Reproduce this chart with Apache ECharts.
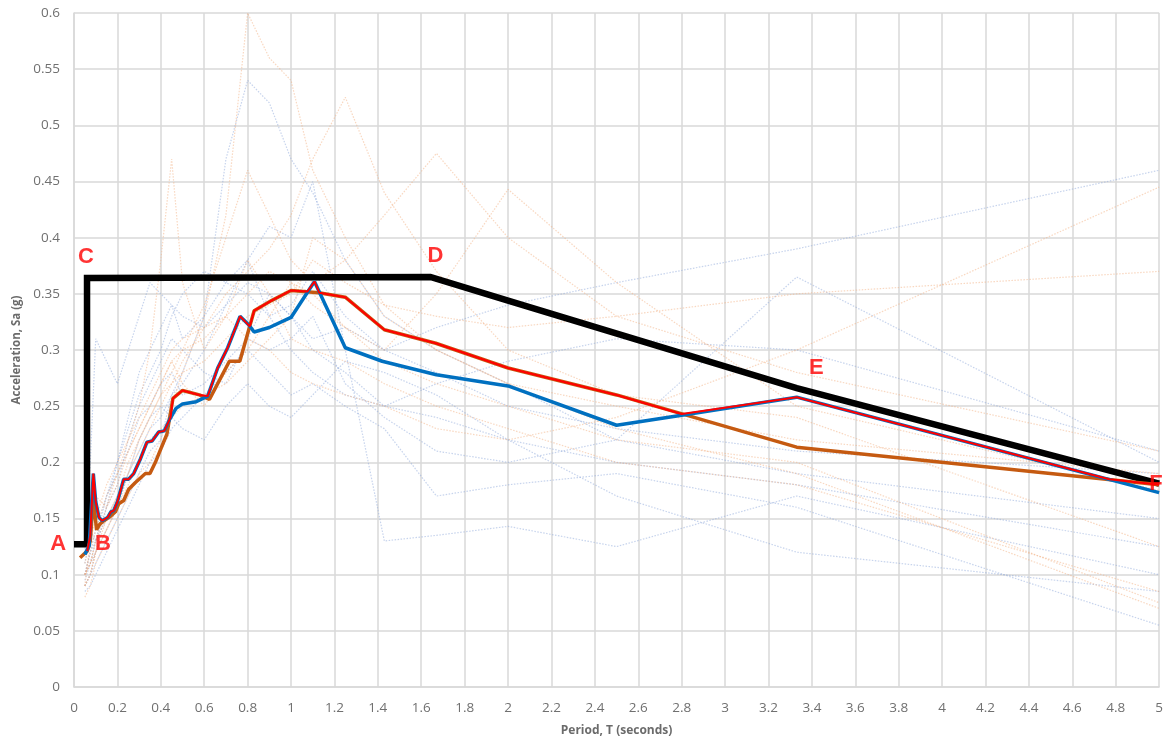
<!DOCTYPE html>
<html>
<head>
<meta charset="utf-8">
<script src="https://cdn.jsdelivr.net/npm/echarts@6/dist/echarts.min.js"></script>
<style>
html,body{margin:0;padding:0;background:#fff;}
#chart{width:1166px;height:742px;}
</style>
</head>
<body>
<div id="chart"></div>
<script>
// ---- Data ----
const xTitle = 'Period, T (seconds)';
const yTitle = 'Acceleration, Sa (g)';

// Design spectrum (black)
const designSpectrum = [[0,0.127],[0.06,0.127],[0.06,0.364],[1.642,0.365],[2.0,0.344],[3.33,0.266],[5.0,0.181]];

// Mean spectrum, blue set
const blueMean = [[0.05,0.118],[0.07,0.126],[0.089,0.19],[0.1,0.165],[0.115,0.151],[0.13,0.148],[0.155,0.151],[0.17,0.156],[0.183,0.157],[0.2,0.165],[0.229,0.185],[0.252,0.185],[0.275,0.19],[0.306,0.203],[0.336,0.218],[0.36,0.219],[0.39,0.227],[0.416,0.228],[0.44,0.238],[0.47,0.248],[0.5,0.252],[0.563,0.254],[0.616,0.259],[0.662,0.284],[0.708,0.302],[0.765,0.33],[0.807,0.322],[0.83,0.316],[0.9,0.32],[1.0,0.329],[1.108,0.361],[1.25,0.302],[1.42,0.29],[1.67,0.278],[2.0,0.268],[2.5,0.233],[2.8,0.242],[3.33,0.258],[5.0,0.173]];

// Mean spectrum, orange set
const orangeMean = [[0.028,0.115],[0.061,0.121],[0.075,0.13],[0.089,0.168],[0.104,0.14],[0.119,0.145],[0.138,0.148],[0.168,0.152],[0.191,0.156],[0.206,0.163],[0.229,0.166],[0.252,0.176],[0.283,0.182],[0.306,0.186],[0.329,0.19],[0.35,0.19],[0.375,0.2],[0.4,0.212],[0.428,0.225],[0.456,0.257],[0.5,0.264],[0.578,0.26],[0.624,0.256],[0.716,0.29],[0.764,0.29],[0.83,0.335],[0.91,0.344],[1.0,0.353],[1.128,0.351],[1.25,0.347],[1.43,0.318],[1.667,0.306],[2.0,0.284],[2.5,0.26],[3.33,0.2135],[5.0,0.18]];

// Envelope (red)
const envelope = [[0.061,0.121],[0.075,0.135],[0.089,0.19],[0.1,0.165],[0.115,0.151],[0.13,0.148],[0.155,0.151],[0.17,0.156],[0.183,0.157],[0.2,0.165],[0.229,0.185],[0.252,0.185],[0.275,0.19],[0.306,0.203],[0.336,0.218],[0.36,0.219],[0.39,0.227],[0.416,0.228],[0.445,0.24],[0.456,0.257],[0.5,0.264],[0.578,0.26],[0.616,0.259],[0.662,0.284],[0.708,0.302],[0.765,0.33],[0.81,0.321],[0.83,0.335],[0.91,0.344],[1.0,0.353],[1.075,0.352],[1.108,0.361],[1.13,0.351],[1.25,0.347],[1.43,0.318],[1.667,0.306],[2.0,0.284],[2.5,0.26],[2.8,0.243],[3.33,0.258],[4.77,0.185],[5.0,0.18]];

// Periods of individual record spectra
const periods = [0.05,0.075,0.1,0.15,0.2,0.25,0.3,0.35,0.4,0.45,0.5,0.6,0.7,0.8,0.9,1.0,1.1,1.25,1.43,1.67,2.0,2.5,3.33,5.0];

// Individual records, blue set
const blueRecords = [
  [0.09,0.10,0.11,0.13,0.15,0.17,0.19,0.21,0.22,0.26,0.28,0.33,0.47,0.54,0.52,0.47,0.44,0.38,0.33,0.30,0.27,0.22,0.19,0.15],
  [0.10,0.12,0.13,0.15,0.17,0.19,0.21,0.23,0.24,0.26,0.27,0.30,0.34,0.38,0.41,0.40,0.45,0.30,0.13,0.135,0.143,0.125,0.17,0.10],
  [0.10,0.11,0.12,0.16,0.20,0.24,0.28,0.30,0.32,0.34,0.31,0.33,0.36,0.35,0.33,0.34,0.37,0.33,0.30,0.32,0.34,0.36,0.39,0.46],
  [0.11,0.14,0.13,0.17,0.19,0.21,0.24,0.25,0.27,0.28,0.26,0.27,0.29,0.31,0.30,0.31,0.33,0.27,0.24,0.21,0.20,0.22,0.365,0.20],
  [0.12,0.20,0.31,0.29,0.27,0.30,0.33,0.36,0.35,0.34,0.33,0.32,0.34,0.36,0.35,0.33,0.30,0.28,0.25,0.24,0.22,0.20,0.18,0.125],
  [0.085,0.09,0.10,0.12,0.14,0.16,0.18,0.20,0.21,0.23,0.24,0.26,0.28,0.30,0.28,0.26,0.27,0.25,0.23,0.17,0.18,0.19,0.16,0.055],
  [0.09,0.10,0.12,0.14,0.16,0.19,0.22,0.24,0.25,0.24,0.23,0.22,0.25,0.27,0.25,0.24,0.26,0.29,0.28,0.26,0.22,0.17,0.12,0.085],
  [0.10,0.12,0.14,0.17,0.20,0.23,0.26,0.28,0.30,0.33,0.35,0.37,0.36,0.38,0.33,0.30,0.28,0.26,0.25,0.27,0.29,0.31,0.30,0.21],
  [0.095,0.11,0.13,0.16,0.18,0.22,0.25,0.27,0.29,0.31,0.30,0.28,0.27,0.31,0.35,0.33,0.31,0.32,0.30,0.28,0.25,0.23,0.21,0.19]
];

// Individual records, orange set
const orangeRecords = [
  [0.08,0.09,0.11,0.13,0.15,0.17,0.19,0.20,0.22,0.25,0.28,0.33,0.42,0.60,0.56,0.54,0.46,0.40,0.34,0.30,0.27,0.23,0.19,0.07],
  [0.09,0.10,0.12,0.14,0.16,0.19,0.21,0.23,0.25,0.27,0.29,0.32,0.35,0.37,0.39,0.42,0.47,0.525,0.44,0.37,0.30,0.26,0.24,0.125],
  [0.10,0.12,0.14,0.17,0.19,0.22,0.25,0.30,0.38,0.47,0.36,0.30,0.33,0.38,0.35,0.31,0.30,0.29,0.27,0.25,0.23,0.20,0.18,0.085],
  [0.09,0.10,0.12,0.15,0.17,0.20,0.22,0.24,0.26,0.28,0.30,0.34,0.40,0.46,0.42,0.38,0.36,0.38,0.42,0.475,0.40,0.33,0.28,0.21],
  [0.10,0.11,0.13,0.16,0.19,0.21,0.23,0.25,0.27,0.29,0.30,0.31,0.33,0.35,0.37,0.36,0.34,0.32,0.30,0.35,0.443,0.36,0.25,0.175],
  [0.11,0.13,0.15,0.18,0.20,0.22,0.24,0.26,0.28,0.30,0.31,0.32,0.33,0.31,0.30,0.28,0.27,0.26,0.25,0.23,0.22,0.24,0.30,0.445],
  [0.10,0.11,0.13,0.15,0.17,0.19,0.22,0.24,0.26,0.27,0.28,0.29,0.31,0.33,0.34,0.35,0.38,0.36,0.34,0.33,0.32,0.33,0.35,0.37],
  [0.09,0.13,0.17,0.16,0.18,0.21,0.23,0.25,0.27,0.29,0.27,0.25,0.28,0.30,0.33,0.36,0.35,0.32,0.29,0.27,0.25,0.22,0.20,0.075],
  [0.10,0.11,0.12,0.14,0.16,0.18,0.20,0.22,0.23,0.24,0.25,0.26,0.27,0.29,0.31,0.33,0.40,0.38,0.33,0.30,0.27,0.25,0.22,0.19]
];

// Point labels
const pointLabels = [
  {name:'A', value:[-0.073,0.127]},
  {name:'B', value:[0.133,0.127]},
  {name:'C', value:[0.055,0.383]},
  {name:'D', value:[1.665,0.384]},
  {name:'E', value:[3.42,0.284]},
  {name:'F', value:[4.985,0.181]}
];

// ---- Chart ----
const chart = echarts.init(document.getElementById('chart'), null, {renderer:'canvas'});
const series = [];
function recordSeries(vals, color){
  return {
    type:'line', silent:true, symbol:'none', z:1,
    data: periods.map((p,i)=>[p, vals[i]]),
    lineStyle:{color:color, width:1.2, type:[1.5,1.5], opacity:0.5}
  };
}
blueRecords.forEach(r=>series.push(recordSeries(r,'#8FAADC')));
orangeRecords.forEach(r=>series.push(recordSeries(r,'#F4B183')));
series.push({type:'line', symbol:'none', z:3, data:designSpectrum,
  lineStyle:{color:'#000000', width:6.5, join:'miter', cap:'butt'}});
series.push({type:'line', symbol:'none', z:4, data:orangeMean,
  lineStyle:{color:'#C55A11', width:3.5}});
series.push({type:'line', symbol:'none', z:5, data:blueMean,
  lineStyle:{color:'#0070C0', width:3.5}});
series.push({type:'line', symbol:'none', z:6, data:envelope,
  lineStyle:{color:'#FF0000', width:2}});
series.push({type:'scatter', symbolSize:0, z:7, clip:false, data:pointLabels,
  label:{show:true, position:'inside', formatter:'{b}', color:'#FF0000',
    textBorderWidth:0, fontFamily:'Liberation Sans', fontWeight:'bold', fontSize:22}});

chart.setOption({
  animation:false,
  backgroundColor:'#ffffff',
  grid:{left:74, right:2, top:13, bottom:54, containLabel:false},
  xAxis:{type:'value', min:0, max:5, interval:0.2,
    name:xTitle, nameLocation:'middle', nameGap:38,
    nameTextStyle:{color:'#6b6b6b', fontFamily:'Open Sans', fontWeight:'bold', fontSize:12},
    axisLine:{show:true, lineStyle:{color:'#d9d9d9', width:1.5}},
    axisTick:{show:false},
    axisLabel:{color:'#707070', fontFamily:'Open Sans', fontSize:13.5, margin:14},
    splitLine:{show:true, lineStyle:{color:'#d9d9d9', width:1.5}}
  },
  yAxis:{type:'value', min:0, max:0.6, interval:0.05,
    name:yTitle, nameLocation:'middle', nameGap:49, nameRotate:90,
    nameTextStyle:{color:'#6b6b6b', fontFamily:'Open Sans', fontWeight:'bold', fontSize:11.5},
    axisLine:{show:true, lineStyle:{color:'#d9d9d9', width:1.5}},
    axisTick:{show:false},
    axisLabel:{color:'#707070', fontFamily:'Open Sans', fontSize:13.5, margin:14},
    splitLine:{show:true, lineStyle:{color:'#d9d9d9', width:1.5}}
  },
  series:series
});
</script>
</body>
</html>
